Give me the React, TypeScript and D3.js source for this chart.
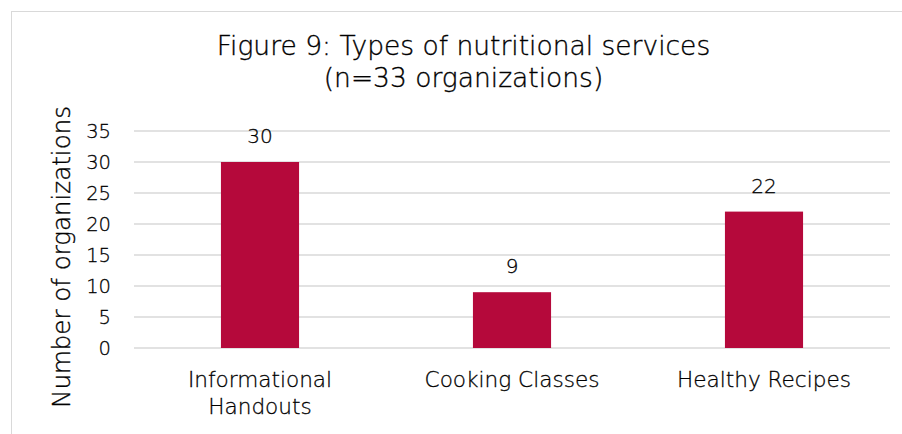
import * as React from "react";
import * as d3 from "d3";

const categories = [["Informational", "Handouts"], ["Cooking Classes"], ["Healthy Recipes"]];
const values = [30, 9, 22];
const yTicks = [0, 5, 10, 15, 20, 25, 30, 35];
const titleLines = ["Figure 9: Types of nutritional services", "(n=33 organizations)"];
const yTitle = "Number of organizations";

const W = 902;
const H = 434;
const margin = { top: 131, right: 12, bottom: 86, left: 134 };
const font = "'DejaVu Sans', sans-serif";
const barColor = "#b5093b";

export default function App() {
  const innerW = W - margin.left - margin.right;
  const innerH = H - margin.top - margin.bottom;

  const x = d3.scaleBand<number>().domain(d3.range(values.length)).range([0, innerW]).paddingInner(0.69).paddingOuter(0.345);
  const y = d3.scaleLinear().domain([0, 35]).range([innerH, 0]);

  return (
    <div style={{ position: "fixed", left: 0, top: 0 }}>
      <svg width={W} height={H} style={{ display: "block", background: "#fff" }} fontFamily={font} fontWeight={200}>
        <rect x={11.5} y={11.5} width={1000} height={1000} fill="none" stroke="#d9d9d9" />
        <g fill="#000" stroke="#000" strokeWidth={0.35}>
          <text textAnchor="middle" fontSize={26.5}>
            {titleLines.map((t, i) => (
              <tspan key={i} x={463.5} y={55 + i * 32}>{t}</tspan>
            ))}
          </text>
          <text transform="translate(70,257) rotate(-90)" textAnchor="middle" fontSize={24.5}>
            {yTitle}
          </text>
        </g>
        <g transform={`translate(${margin.left},${margin.top})`}>
          {yTicks.map((t) => (
            <g key={t}>
              <line x1={0} x2={innerW} y1={y(t)} y2={y(t)} stroke="#d9d9d9" strokeWidth={1.5} />
              <text x={-23} y={y(t)} dy="0.36em" textAnchor="end" fontSize={19.5} fill="#000" stroke="#000" strokeWidth={0.3}>{t}</text>
            </g>
          ))}
          {values.map((v, i) => (
            <g key={i}>
              <rect x={x(i)} y={y(v)} width={x.bandwidth()} height={innerH - y(v)} fill={barColor} />
              <g fill="#000" stroke="#000" strokeWidth={0.3}>
                <text x={(x(i) as number) + x.bandwidth() / 2} y={y(v) - 19} textAnchor="middle" fontSize={20}>{v}</text>
                <text textAnchor="middle" fontSize={21.6}>
                  {categories[i].map((l, j) => (
                    <tspan key={j} x={(x(i) as number) + x.bandwidth() / 2} y={innerH + 39 + j * 26.5}>{l}</tspan>
                  ))}
                </text>
              </g>
            </g>
          ))}
        </g>
      </svg>
    </div>
  );
}
